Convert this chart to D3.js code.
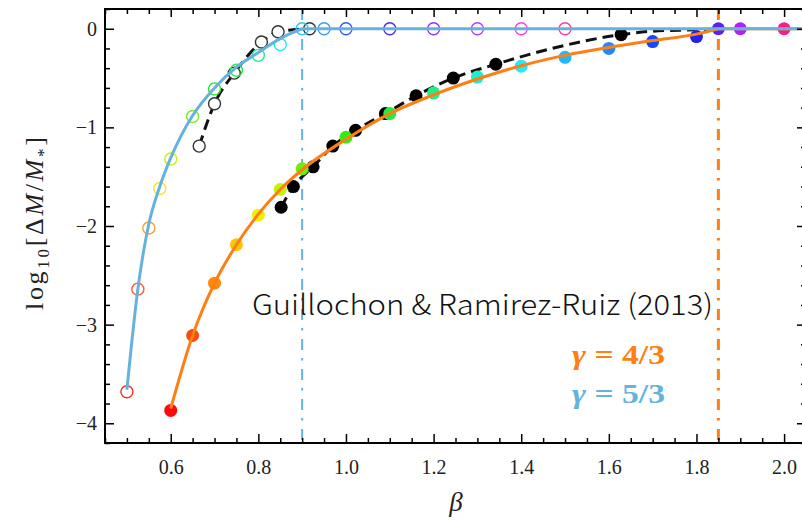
<!DOCTYPE html>
<html>
<head>
<meta charset="utf-8">
<script src="https://cdn.jsdelivr.net/npm/d3@7/dist/d3.min.js"></script>
<style>
  body { margin: 0; background: #fff; }
  svg { display: block; }
</style>
</head>
<body>
<div id="chart"></div>
<script>
// ---- data ----
// critical beta (full disruption) for gamma = 4/3 and gamma = 5/3
var critBeta = [1.85, 0.9];
var gammaLabels = ["4/3", "5/3"];

// Guillochon & Ramirez-Ruiz points, gamma = 5/3 (open) and 4/3 (filled)
var grr53Beta = [0.5, 0.525, 0.55, 0.575, 0.6, 0.65, 0.7, 0.75, 0.8, 0.85, 0.9, 0.95, 1.0, 1.1, 1.2, 1.3, 1.4, 1.5];
var grr53LogM = [-3.68, -2.64, -2.02, -1.62, -1.32, -0.89, -0.61, -0.42, -0.27, -0.16, 0, 0, 0, 0, 0, 0, 0, 0];
var grr43Beta = [0.6, 0.65, 0.7, 0.75, 0.8, 0.85, 0.9, 1.0, 1.1, 1.2, 1.3, 1.4, 1.5, 1.6, 1.7, 1.8, 1.85, 1.9, 2.0];
var grr43LogM = [-3.87, -3.11, -2.58, -2.19, -1.89, -1.63, -1.42, -1.1, -0.86, -0.65, -0.49, -0.38, -0.29, -0.2, -0.13, -0.08, 0, 0, 0];

// other simulation points (black), gamma = 5/3 (open) and 4/3 (filled)
var sim53Beta = [0.665, 0.7, 0.745, 0.807, 0.845, 0.917];
var sim53LogM = [-1.19, -0.76, -0.45, -0.135, -0.03, 0];
var sim43Beta = [0.852, 0.88, 0.925, 0.97, 1.022, 1.09, 1.16, 1.245, 1.342, 1.628];
var sim43LogM = [-1.81, -1.6, -1.4, -1.19, -1.03, -0.86, -0.68, -0.5, -0.36, -0.06];

// dashed curve through the black filled points
var dash43Beta = [0.852, 0.88, 0.925, 0.97, 1.022, 1.09, 1.16, 1.245, 1.342, 1.47, 1.628, 1.7, 1.8, 1.85];
var dash43LogM = [-1.81, -1.6, -1.4, -1.19, -1.03, -0.86, -0.68, -0.5, -0.36, -0.2, -0.06, -0.025, -0.01, 0];

// fit curves
var fit53Beta = [0.5, 0.525, 0.55, 0.575, 0.6, 0.65, 0.7, 0.75, 0.8, 0.85, 0.875, 0.9];
var fit53LogM = [-3.66, -2.64, -1.98, -1.6, -1.31, -0.88, -0.6, -0.39, -0.24, -0.1, -0.045, 0];
var fit43Beta = [0.6, 0.65, 0.7, 0.75, 0.8, 0.85, 0.9, 1.0, 1.1, 1.2, 1.3, 1.4, 1.5, 1.6, 1.7, 1.8, 1.85];
var fit43LogM = [-3.85, -3.11, -2.58, -2.19, -1.88, -1.63, -1.43, -1.12, -0.86, -0.67, -0.51, -0.375, -0.27, -0.19, -0.12, -0.055, 0];

// axis ticks
var xTicks = [0.6, 0.8, 1.0, 1.2, 1.4, 1.6, 1.8, 2.0];
var yTicks = [0, -1, -2, -3, -4];

// ---- styles ----
var openColors = ["#ff2a2a", "#ff5a36", "#ff9d2a", "#ffe21a", "#c6f01a", "#7aec1a", "#2ee02a", "#22ec44",
  "#22ec99", "#22eaea", "#22c8ff", "#3a9cff", "#3458ff", "#4a2af0", "#8a36ff", "#b83cff", "#ff3ae8", "#ff3a9c"];
var filledColors = ["#ff0a0a", "#ff4a0a", "#ff8a0a", "#ffc40a", "#eef00a", "#c8f00a", "#70ec0a", "#34ec14",
  "#22ec48", "#22ec8c", "#22eccc", "#22eaff", "#22b8ff", "#2288ff", "#1448ff", "#2222ee", "#5a22ee", "#aa22ff", "#ff1a88"];
var orange = "#ff7f14";
var blue = "#66b2dc";

var width = 802, height = 521;
var x = d3.scaleLinear().domain([0.45, 2.05]).range([105, 806]);
var y = d3.scaleLinear().domain([-4.2, 0.2]).range([443, 9]);

var svg = d3.select("#chart").append("svg")
  .attr("width", width)
  .attr("height", height);

svg.append("clipPath").attr("id", "plotClip")
  .append("rect")
  .attr("x", x.range()[0]).attr("y", y.range()[1])
  .attr("width", x.range()[1] - x.range()[0])
  .attr("height", y.range()[0] - y.range()[1]);

var plot = svg.append("g").attr("clip-path", "url(#plotClip)");

var pts = (bs, ls) => bs.map((b, i) => [b, ls[i]]);
var line = d3.line().x((d) => x(d[0])).y((d) => y(d[1])).curve(d3.curveMonotoneX);

// vertical dash-dot lines at critical beta
plot.selectAll(".crit")
  .data(critBeta)
  .enter().append("line")
  .attr("class", "crit")
  .attr("x1", (d) => x(d)).attr("x2", (d) => x(d))
  .attr("y1", y.range()[1]).attr("y2", y.range()[0])
  .attr("stroke", (d, i) => i == 0 ? orange : blue)
  .attr("stroke-width", (d, i) => i == 0 ? 3 : 2)
  .attr("stroke-dasharray", "11,8,2.5,8.5");

// black dashed curves
plot.append("path")
  .attr("d", line(pts(sim53Beta, sim53LogM)))
  .attr("fill", "none").attr("stroke", "#111").attr("stroke-width", 3)
  .attr("stroke-dasharray", "11,6");
plot.append("path")
  .attr("d", line(pts(dash43Beta, dash43LogM)))
  .attr("fill", "none").attr("stroke", "#111").attr("stroke-width", 3)
  .attr("stroke-dasharray", "11,6");

// black points
plot.selectAll(".sim53")
  .data(pts(sim53Beta, sim53LogM))
  .enter().append("circle")
  .attr("class", "sim53")
  .attr("cx", (d) => x(d[0])).attr("cy", (d) => y(d[1]))
  .attr("r", 6)
  .attr("fill", "#fff").attr("stroke", "#333").attr("stroke-width", 1.4);
plot.selectAll(".sim43")
  .data(pts(sim43Beta, sim43LogM))
  .enter().append("circle")
  .attr("class", "sim43")
  .attr("cx", (d) => x(d[0])).attr("cy", (d) => y(d[1]))
  .attr("r", 6.5)
  .attr("fill", "#000");

// GRR coloured points
plot.selectAll(".grr53")
  .data(pts(grr53Beta, grr53LogM))
  .enter().append("circle")
  .attr("class", "grr53")
  .attr("cx", (d) => x(d[0])).attr("cy", (d) => y(d[1]))
  .attr("r", 6)
  .attr("fill", "none")
  .attr("stroke", (d, i) => openColors[i])
  .attr("stroke-width", 1.4);
plot.selectAll(".grr43")
  .data(pts(grr43Beta, grr43LogM))
  .enter().append("circle")
  .attr("class", "grr43")
  .attr("cx", (d) => x(d[0])).attr("cy", (d) => y(d[1]))
  .attr("r", 6.5)
  .attr("fill", (d, i) => filledColors[i]);

// fit curves, rising part then flat at full disruption
[[fit43Beta, fit43LogM, orange, critBeta[0]], [fit53Beta, fit53LogM, blue, critBeta[1]]].forEach((f) => {
  plot.append("path")
    .attr("d", line(pts(f[0], f[1])))
    .attr("fill", "none").attr("stroke", f[2]).attr("stroke-width", 3);
  plot.append("line")
    .attr("x1", x(f[3])).attr("x2", x.range()[1])
    .attr("y1", y(0)).attr("y2", y(0))
    .attr("stroke", f[2]).attr("stroke-width", 3);
});

// frame
svg.append("rect")
  .attr("x", x.range()[0]).attr("y", y.range()[1])
  .attr("width", x.range()[1] - x.range()[0])
  .attr("height", y.range()[0] - y.range()[1])
  .attr("fill", "none").attr("stroke", "#000").attr("stroke-width", 2);

// ticks
var xMinor = d3.range(0.45, 2.05, 0.05).filter((v) => Math.abs(Math.round(v * 5) - v * 5) > 1e-6);
var yMinor = d3.range(-4.2, 0.21, 0.2).filter((v) => Math.abs(Math.round(v) - v) > 1e-6);
var tickFont = "'Liberation Serif', 'Times New Roman', serif";

function styleAxis(g) {
  g.select(".domain").remove();
  g.selectAll(".tick line").attr("stroke", "#000").attr("stroke-width", 1.5);
  g.selectAll(".tick text").attr("font-family", tickFont).attr("font-size", 20).attr("fill", "#222");
}

// bottom
svg.append("g").attr("transform", `translate(0, ${y.range()[0]})`)
  .call(d3.axisBottom(x).tickValues(xTicks).tickFormat(d3.format(".1f")).tickSizeInner(-9).tickSizeOuter(0).tickPadding(17))
  .call(styleAxis);
svg.append("g").attr("transform", `translate(0, ${y.range()[0]})`)
  .call(d3.axisBottom(x).tickValues(xMinor).tickFormat("").tickSizeInner(-5).tickSizeOuter(0))
  .call(styleAxis);
// top
svg.append("g").attr("transform", `translate(0, ${y.range()[1]})`)
  .call(d3.axisTop(x).tickValues(xTicks).tickFormat("").tickSizeInner(-8).tickSizeOuter(0))
  .call(styleAxis);
svg.append("g").attr("transform", `translate(0, ${y.range()[1]})`)
  .call(d3.axisTop(x).tickValues(xMinor).tickFormat("").tickSizeInner(-5).tickSizeOuter(0))
  .call(styleAxis);
// left
svg.append("g").attr("transform", `translate(${x.range()[0]}, 0)`)
  .call(d3.axisLeft(y).tickValues(yTicks).tickFormat(d3.format("d")).tickSizeInner(-9).tickSizeOuter(0).tickPadding(8))
  .call(styleAxis);
svg.append("g").attr("transform", `translate(${x.range()[0]}, 0)`)
  .call(d3.axisLeft(y).tickValues(yMinor).tickFormat("").tickSizeInner(-5).tickSizeOuter(0))
  .call(styleAxis);
// right
svg.append("g").attr("transform", `translate(${x.range()[1]}, 0)`)
  .call(d3.axisRight(y).tickValues(yTicks).tickFormat("").tickSizeInner(-9).tickSizeOuter(0))
  .call(styleAxis);
svg.append("g").attr("transform", `translate(${x.range()[1]}, 0)`)
  .call(d3.axisRight(y).tickValues(yMinor).tickFormat("").tickSizeInner(-5).tickSizeOuter(0))
  .call(styleAxis);

// axis labels
svg.append("text")
  .attr("x", 456).attr("y", 511)
  .attr("text-anchor", "middle")
  .attr("font-family", tickFont).attr("font-style", "italic").attr("font-size", 27)
  .attr("fill", "#222")
  .text("β");

var yLabel = svg.append("text")
  .attr("transform", "translate(43, 223.5) rotate(-90)")
  .attr("text-anchor", "middle")
  .attr("font-family", tickFont).attr("font-size", 26)
  .attr("fill", "#222")
  .attr("textLength", 173).attr("lengthAdjust", "spacing");
yLabel.append("tspan").text("log");
yLabel.append("tspan").attr("font-size", 17).attr("dy", 6).text("10");
yLabel.append("tspan").attr("dy", -6).text("[Δ");
yLabel.append("tspan").attr("font-style", "italic").text("M");
yLabel.append("tspan").text("/");
yLabel.append("tspan").attr("font-style", "italic").text("M");
yLabel.append("tspan").attr("font-size", 17).attr("dy", 6).text("*");
yLabel.append("tspan").attr("dy", -6).text("]");

// annotation
svg.append("text")
  .attr("x", 252).attr("y", 315)
  .attr("font-family", "'Noto Sans CJK SC', 'Noto Sans', sans-serif")
  .attr("font-weight", 300)
  .attr("font-size", 28)
  .attr("fill", "#111")
  .attr("textLength", 461).attr("lengthAdjust", "spacingAndGlyphs")
  .text("Guillochon & Ramirez-Ruiz (2013)");

// legend
var legend = svg.selectAll(".legend")
  .data(gammaLabels)
  .enter().append("text")
  .attr("class", "legend")
  .attr("x", 572)
  .attr("y", (d, i) => 363.5 + i * 39.2)
  .attr("font-family", tickFont).attr("font-weight", "bold").attr("font-size", 27)
  .attr("fill", (d, i) => i == 0 ? orange : blue)
  .attr("textLength", 93).attr("lengthAdjust", "spacingAndGlyphs");
legend.append("tspan").attr("font-style", "italic").text("γ");
legend.append("tspan").text((d) => " = " + d);
</script>
</body>
</html>
